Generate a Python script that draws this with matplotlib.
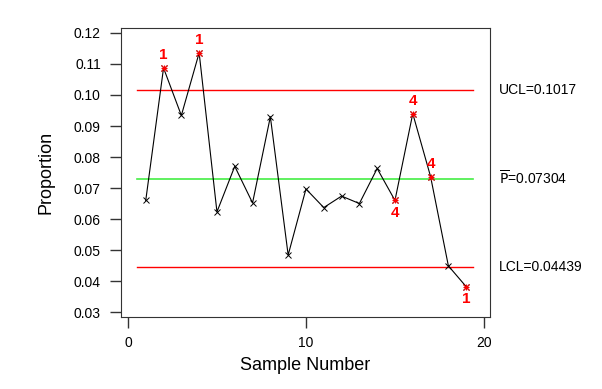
import matplotlib
matplotlib.use('Agg')
import matplotlib.pyplot as plt
import numpy as np

plt.rcParams['font.family'] = ['Liberation Sans', 'DejaVu Sans']

samples = list(range(1, 20))
proportion = [0.0660, 0.1087, 0.0934, 0.1136, 0.0623, 0.0770, 0.0652, 0.0930, 0.0484, 0.0697,
              0.0637, 0.0674, 0.0650, 0.0763, 0.0660, 0.0940, 0.0737, 0.0449, 0.0382]
ucl = 0.1017
center = 0.07304
lcl = 0.04439
# flagged points: sample -> (test label, above/below)
flags = {2: ('1', 'above'), 4: ('1', 'above'), 15: ('4', 'below'),
         16: ('4', 'above'), 17: ('4', 'above'), 19: ('1', 'below')}

fig = plt.figure(figsize=(6.02, 3.89), dpi=100)
ax = fig.add_axes([0.201, 0.185, 0.613, 0.743])

ax.axhline(ucl, xmin=0.043, xmax=0.955, color='red', lw=1)
ax.axhline(lcl, xmin=0.043, xmax=0.955, color='red', lw=1)
ax.axhline(center, xmin=0.043, xmax=0.955, color='#44ee44', lw=1.2)

ax.plot(samples, proportion, color='black', lw=0.8, marker='x', ms=4, mew=0.7)

for s, (lab, pos) in flags.items():
    v = proportion[s - 1]
    ax.plot(s, v, marker='x', color='red', ms=4, mew=0.8)
    ax.plot(s, v, marker='+', color='red', ms=4, mew=0.8)
    if pos == 'above':
        ax.annotate(lab, (s, v), xytext=(0, 4), textcoords='offset points',
                    ha='center', va='bottom', color='red', fontsize=11, fontweight='bold')
    else:
        ax.annotate(lab, (s, v), xytext=(0, -4), textcoords='offset points',
                    ha='center', va='top', color='red', fontsize=11, fontweight='bold')

ax.set_xlim(-0.39, 20.34)
ax.set_ylim(0.0284, 0.1216)
ax.set_xticks([0, 10, 20])
ax.set_yticks(np.arange(0.03, 0.1201, 0.01))
ax.yaxis.set_major_formatter(matplotlib.ticker.FormatStrFormatter('%.2f'))
ax.tick_params(direction='out', length=8, width=1, colors='#333333', labelcolor='black', labelsize=10)
ax.tick_params(axis='y', pad=6.5)
ax.tick_params(axis='x', pad=5.5)
for sp in ax.spines.values():
    sp.set_color('#333333')

ax.set_xlabel('Sample Number', fontsize=13, labelpad=5)
ax.set_ylabel('Proportion', fontsize=13, labelpad=14)

tr = ax.get_yaxis_transform()
ax.text(1.025, ucl, 'UCL=0.1017', transform=tr, va='center', fontsize=10)
ax.text(1.025, center, r'$\overline{\mathrm{P}}$=0.07304', transform=tr, va='center', fontsize=10)
ax.text(1.025, lcl, 'LCL=0.04439', transform=tr, va='center', fontsize=10)

fig.savefig('out.png', dpi=100)
